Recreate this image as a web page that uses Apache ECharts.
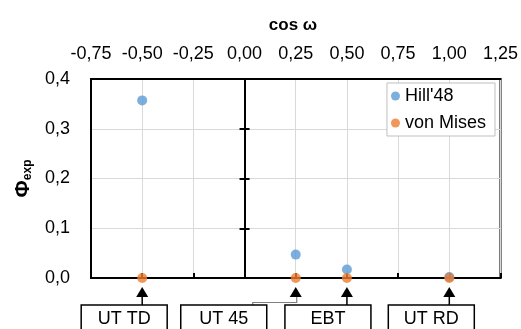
<!DOCTYPE html>
<html><head><meta charset="utf-8">
<script src="https://cdn.jsdelivr.net/npm/echarts@6/dist/echarts.min.js"></script>
<style>html,body{margin:0;padding:0;background:#fff}#c{width:521px;height:329px}</style>
</head><body><div id="c"></div>
<script>
// ---- data ----
const xMin = -0.75, xMax = 1.25, xStep = 0.25;
const yMin = 0, yMax = 0.4, yStep = 0.1;
const cosOmega = [-0.5, 0.25, 0.5, 1.0];
const hill48 = [0.357, 0.047, 0.017, 0.002];
const vonMises = [0.0, 0.0, 0.0, 0.0];
const testLabels = ['UT TD', 'UT 45', 'EBT', 'UT RD'];
const seriesNames = ["Hill'48", 'von Mises'];
const xTitle = 'cos ω';

// ---- layout (pixel offsets of annotation boxes relative to their arrow) ----
const boxOffset = [-18, -72, -19, -18];
const boxW = 86;
const FONT = 'Liberation Sans';

const chart = echarts.init(document.getElementById('c'), null, {renderer: 'canvas'});
const fmtX = v => (Math.round(v * 100) / 100).toFixed(2).replace('.', ',');
const fmtY = v => (Math.round(v * 10) / 10).toFixed(1).replace('.', ',');
const pair = arr => cosOmega.map((x, i) => [x, arr[i]]);

const option = {
  backgroundColor: '#fff',
  animation: false,
  textStyle: {fontFamily: FONT},
  title: {
    text: xTitle, left: 288, top: 12, textAlign: 'center',
    textStyle: {fontFamily: FONT, fontSize: 17, fontWeight: 'bold', color: '#000'}
  },
  legend: {
    orient: 'vertical', right: 26, top: 83,
    itemWidth: 9, itemHeight: 9, itemGap: 7,
    padding: [3, 9, 3, 4],
    backgroundColor: '#fff', borderColor: '#bfbfbf', borderWidth: 1,
    textStyle: {fontFamily: FONT, fontSize: 18, color: '#000', lineHeight: 20},
    data: seriesNames.map(n => ({name: n, icon: 'circle'}))
  },
  grid: {left: 91, right: 20, top: 79, bottom: 51, show: true,
         borderColor: '#000', borderWidth: 2, backgroundColor: 'transparent', containLabel: false},
  xAxis: [
    {type: 'value', position: 'top', min: xMin, max: xMax, interval: xStep,
     axisLine: {show: true, onZero: false, lineStyle: {color: '#000', width: 2}},
     axisTick: {show: false},
     axisLabel: {formatter: fmtX, fontSize: 18, color: '#000', margin: 16, fontFamily: FONT},
     splitLine: {show: true, lineStyle: {color: '#d9d9d9', width: 1}}},
    {type: 'value', position: 'bottom', min: xMin, max: xMax, interval: xStep,
     axisLine: {show: true, onZero: false, lineStyle: {color: '#000', width: 2}},
     axisTick: {show: true, inside: true, length: 5, lineStyle: {color: '#000', width: 2}},
     axisLabel: {show: false}, splitLine: {show: false}}
  ],
  yAxis: [
    {type: 'value', position: 'left', min: yMin, max: yMax, interval: yStep,
     axisLine: {show: true, onZero: false, lineStyle: {color: '#000', width: 2}},
     axisTick: {show: false},
     axisLabel: {formatter: fmtY, fontSize: 18, color: '#000', margin: 21, fontFamily: FONT},
     splitLine: {show: true, lineStyle: {color: '#d9d9d9', width: 1}},
     name: '{a|Φ}{b|exp}', nameLocation: 'middle', nameRotate: 90, nameGap: 57,
     nameTextStyle: {rich: {
       a: {fontFamily: FONT, fontSize: 21, fontWeight: 'bold', color: '#000'},
       b: {fontFamily: FONT, fontSize: 12, fontWeight: 'bold', color: '#000', verticalAlign: 'bottom', padding: [8, 0, 0, 0]}
     }}},
    {type: 'value', min: yMin, max: yMax, interval: yStep,
     axisLine: {show: true, onZero: true, onZeroAxisIndex: 0, lineStyle: {color: '#000', width: 2}},
     axisTick: {show: true, inside: true, length: 5, lineStyle: {color: '#000', width: 2}},
     axisLabel: {show: false}, splitLine: {show: false}},
    {type: 'value', min: yMin, max: yMax, interval: yStep,
     axisLine: {show: false, onZero: true, onZeroAxisIndex: 1},
     axisTick: {show: true, inside: false, length: 5, lineStyle: {color: '#000', width: 2}},
     axisLabel: {show: false}, splitLine: {show: false}}
  ],
  series: [
    {name: seriesNames[0], type: 'scatter', xAxisIndex: 0, yAxisIndex: 0,
     symbolSize: 10, itemStyle: {color: '#5B9BD5'}, data: pair(hill48), z: 3},
    {name: seriesNames[1], type: 'scatter', xAxisIndex: 0, yAxisIndex: 0,
     symbolSize: 10, itemStyle: {color: '#ED7D31'}, data: pair(vonMises), z: 4}
  ]
};
chart.setOption(option);

// annotation boxes with arrows, anchored to the data positions through the axes
const els = [];
const boxTop = 305;
cosOmega.forEach((x, i) => {
  const p = chart.convertToPixel({xAxisIndex: 0, yAxisIndex: 0}, [x, yMin]);
  const ax = p[0], ay = p[1];
  const tipY = ay + 9, baseY = ay + 19;
  const cx = ax + boxOffset[i];
  els.push({type: 'polygon', shape: {points: [[ax, tipY], [ax - 6, baseY], [ax + 6, baseY]]},
            style: {fill: '#000'}, z: 10});
  if (Math.abs(cx - ax) < boxW / 2 - 4) {
    els.push({type: 'line', shape: {x1: ax, y1: baseY, x2: ax, y2: boxTop},
              style: {stroke: '#000', lineWidth: 1.5}, z: 10});
  } else {
    const midY = boxTop - 2.5;
    els.push({type: 'polyline', shape: {points: [[cx + 29, boxTop], [cx + 29, midY], [ax + 1, midY], [ax + 1, baseY]]},
              style: {stroke: '#7f7f7f', lineWidth: 1.2, fill: null}, z: 10});
  }
  els.push({type: 'rect', shape: {x: cx - boxW / 2, y: boxTop, width: boxW, height: 40},
            style: {fill: '#fff', stroke: '#000', lineWidth: 1.5}, z: 11});
  els.push({type: 'text', x: cx, y: boxTop + 14, z: 12,
            style: {text: testLabels[i], fill: '#000', font: '18px ' + FONT, align: 'center', verticalAlign: 'middle'}});
});
chart.setOption({graphic: {elements: els}});
</script></body></html>
